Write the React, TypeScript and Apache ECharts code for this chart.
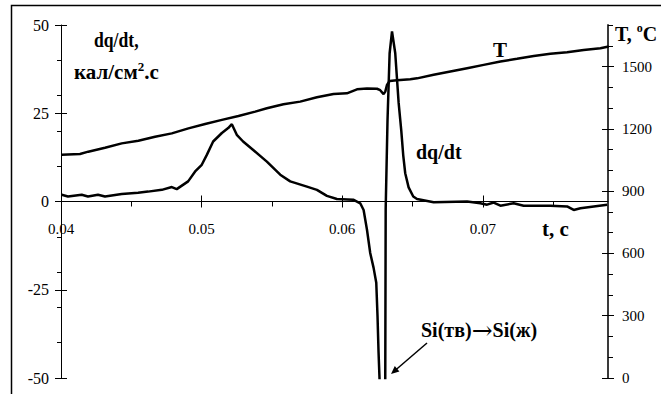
import React, { useEffect, useRef } from "react";
import * as echarts from "echarts";

// Heat flux dq/dt (кал/см².с) against time t (с)
const dqTime = [
  0.04005, 0.0405, 0.04147, 0.04192, 0.04263, 0.04313, 0.04432, 0.04548, 0.04619, 0.04717,
  0.04788, 0.04823, 0.04904, 0.04954, 0.05001, 0.05037, 0.05082, 0.05144, 0.05189, 0.05215,
  0.0525, 0.05295, 0.05367, 0.05464, 0.05559, 0.0563, 0.05749, 0.0582, 0.05891, 0.05962,
  0.06078, 0.06128, 0.06152, 0.06176, 0.06199, 0.06223, 0.06242, 0.06251, 0.06258, 0.06265,
  0.06286, 0.06306, 0.06309, 0.06322, 0.06337, 0.06354, 0.06377, 0.06401, 0.0642, 0.06434,
  0.06448, 0.06472, 0.06505, 0.06532, 0.0665, 0.06888, 0.06982, 0.0703, 0.07077, 0.07125,
  0.07219, 0.0729, 0.0748, 0.07599, 0.07646, 0.07694, 0.07789, 0.07884,
];
const dqValues = [
  1.9, 1.4, 1.9, 1.4, 1.9, 1.4, 2.1, 2.5, 2.8, 3.3,
  4.1, 3.5, 5.7, 8.5, 10.4, 13.2, 17.0, 19.4, 20.8, 21.9,
  18.9, 17.0, 14.6, 11.3, 7.6, 5.7, 4.2, 3.3, 1.6, 0.7,
  0.5, -0.5, -2.4, -8, -14.6, -18.8, -23, -32.6, -42.4, -50,
  -75, -50, -2, 23, 42, 48.2, 42, 28, 20, 13,
  8, 4, 1.4, 0.7, -0.2, 0, -0.5, -0.9, -0.3, -1.2,
  -0.5, -1.2, -1.2, -1.4, -2.4, -1.9, -1.4, -0.9,
];

// Temperature T (°C) against time t (с)
const tempTime = [
  0.04005, 0.04135, 0.04194, 0.04313, 0.04432, 0.0455, 0.04669, 0.04788, 0.04906, 0.05025,
  0.05144, 0.05262, 0.05381, 0.05464, 0.05582, 0.05701, 0.0582, 0.05938, 0.06033, 0.06105,
  0.06176, 0.06247, 0.0627, 0.06294, 0.06306, 0.06318, 0.06337, 0.06389, 0.06484, 0.06532,
  0.0665, 0.06769, 0.06888, 0.07006, 0.07125, 0.07243, 0.07362, 0.0748, 0.07599, 0.07717,
  0.07836, 0.07895,
];
const tempValues = [
  1075, 1079, 1090, 1109, 1130, 1143, 1162, 1178, 1202, 1223,
  1243, 1262, 1283, 1299, 1318, 1331, 1352, 1368, 1371, 1390,
  1394, 1393, 1386, 1367, 1379, 1411, 1430, 1434, 1439, 1443,
  1460, 1476, 1492, 1508, 1524, 1537, 1551, 1561, 1569, 1580,
  1588, 1596,
];

const xMajor = [0.04, 0.05, 0.06, 0.07];
const xMinor = [0.045, 0.055, 0.065, 0.075];
const tempMajor = [0, 300, 600, 900, 1200, 1500];

const FONT = "'Liberation Serif', 'Times New Roman', serif";

// plot area edges in px
const GRID = { left: 61, right: 53, top: 25, bottom: 16 };
const CHART_H = 394;

const hidden = { show: false };

function leftAxis(interval: number, tick: any, label: any, line: boolean) {
  return {
    type: "value",
    position: "left",
    min: -50,
    max: 50,
    interval,
    axisLine: { show: line, lineStyle: { color: "#000", width: 1 } },
    axisTick: tick,
    axisLabel: label,
    splitLine: hidden,
  };
}

function rightAxis(interval: number, tick: any, label: any, line: boolean) {
  return {
    type: "value",
    position: "right",
    min: 0,
    max: 1700,
    interval,
    axisLine: { show: line, lineStyle: { color: "#3a3a3a", width: 2 } },
    axisTick: tick,
    axisLabel: label,
    splitLine: hidden,
  };
}

function timeAxis(tick: any, label: any, line: boolean, onZero: boolean, offset = 0) {
  return {
    type: "value",
    position: "bottom",
    offset,
    min: 0.04,
    max: 0.0789,
    interval: 0.01,
    axisLine: { show: line, onZero, onZeroAxisIndex: 0, lineStyle: { color: "#000", width: 1 } },
    axisTick: tick,
    axisLabel: label,
    splitLine: hidden,
  };
}

export default function App() {
  const ref = useRef<HTMLDivElement>(null);

  useEffect(() => {
    if (!ref.current) return;
    const chart = echarts.init(ref.current, null, { renderer: "svg" });

    const dqData = dqTime.map((t, i) => [t, dqValues[i]]);
    const tempData = tempTime.map((t, i) => [t, tempValues[i]]);

    const labelStyle = { color: "#000", fontFamily: FONT, fontSize: 15 };
    const bold = { fontFamily: FONT, fontWeight: "bold", fill: "#000" };

    // distance from the grid bottom up to the zero line of the dq/dt axis
    const plotH = CHART_H - GRID.top - GRID.bottom;
    const zeroLift = -plotH / 2;

    chart.setOption({
      animation: false,
      backgroundColor: "#fff",
      grid: { ...GRID, outerBoundsMode: "none", containLabel: false },
      xAxis: [
        timeAxis(
          { show: true, inside: false, length: 6, customValues: xMajor, lineStyle: { color: "#000" } },
          hidden,
          true,
          true
        ),
        timeAxis(
          { show: true, inside: true, length: 6, customValues: xMajor, lineStyle: { color: "#000" } },
          hidden,
          false,
          true
        ),
        timeAxis(
          { show: true, inside: false, length: 5, customValues: xMinor, lineStyle: { color: "#000" } },
          hidden,
          false,
          true
        ),
        // tick labels of the time axis, lifted to the zero line
        timeAxis(
          hidden,
          {
            ...labelStyle,
            margin: 20,
            customValues: xMajor,
            formatter: (v: number) => v.toFixed(2),
          },
          false,
          false,
          zeroLift
        ),
      ],
      yAxis: [
        leftAxis(25, { show: true, inside: false, length: 6, lineStyle: { color: "#000" } }, { ...labelStyle, fontSize: 16, margin: 12 }, true),
        leftAxis(25, { show: true, inside: true, length: 6, lineStyle: { color: "#000" } }, hidden, false),
        leftAxis(10, { show: true, inside: false, length: 4, lineStyle: { color: "#000" } }, hidden, false),
        rightAxis(
          300,
          { show: true, inside: false, length: 6, customValues: tempMajor, lineStyle: { color: "#000" } },
          { ...labelStyle, margin: 14, customValues: tempMajor, formatter: (v: number) => String(v) },
          true
        ),
        rightAxis(
          300,
          { show: true, inside: true, length: 6, customValues: tempMajor, lineStyle: { color: "#000" } },
          hidden,
          false
        ),
        rightAxis(100, { show: true, inside: false, length: 5, lineStyle: { color: "#000" } }, hidden, false),
      ],
      series: [
        {
          type: "line",
          name: "dq/dt",
          xAxisIndex: 0,
          yAxisIndex: 0,
          data: dqData,
          showSymbol: false,
          clip: true,
          lineStyle: { color: "#000", width: 2.5 },
        },
        {
          type: "line",
          name: "T",
          xAxisIndex: 0,
          yAxisIndex: 3,
          data: tempData,
          showSymbol: false,
          clip: true,
          lineStyle: { color: "#000", width: 2.5 },
        },
      ],
      graphic: [
        {
          type: "rect",
          shape: { x: 11.5, y: 5.5, width: 700, height: 450 },
          style: { fill: "none", stroke: "#000", lineWidth: 1.5 },
          silent: true,
        },
        {
          type: "text",
          x: 94,
          y: 40,
          scaleX: 0.84,
          style: { ...bold, text: "dq/dt,", fontSize: 21, verticalAlign: "middle" },
        },
        {
          type: "text",
          x: 74,
          y: 72,
          style: {
            text: "{a|кал/см}{s|2}{a|.с}",
            verticalAlign: "middle",
            rich: {
              a: { ...bold, fontSize: 21, lineHeight: 24 },
              s: { ...bold, fontSize: 13, verticalAlign: "top", lineHeight: 14 },
            },
          },
        },
        {
          type: "text",
          x: 500,
          y: 50,
          style: { ...bold, text: "T", fontSize: 21, align: "center", verticalAlign: "middle" },
        },
        {
          type: "text",
          x: 615,
          y: 34,
          style: {
            text: "{a|T, }{s|o}{a|C}",
            verticalAlign: "middle",
            rich: {
              a: { ...bold, fontSize: 20, lineHeight: 24 },
              s: { ...bold, fontSize: 12, verticalAlign: "top", lineHeight: 14 },
            },
          },
        },
        {
          type: "text",
          x: 416,
          y: 152,
          style: { ...bold, text: "dq/dt", fontSize: 20, verticalAlign: "middle" },
        },
        {
          type: "text",
          x: 542,
          y: 229,
          style: { ...bold, text: "t, c", fontSize: 21, verticalAlign: "middle" },
        },
        {
          type: "text",
          x: 421,
          y: 330,
          style: {
            text: "{b|Si}{c|(тв)}{r|→}{b|Si}{c|(ж)}",
            verticalAlign: "middle",
            rich: {
              b: { ...bold, fontSize: 20, lineHeight: 24 },
              c: { ...bold, fontSize: 20, lineHeight: 24 },
              r: { fontFamily: "'DejaVu Serif', serif", fill: "#000", fontSize: 25, lineHeight: 24 },
            },
          },
        },
        {
          type: "line",
          shape: { x1: 427, y1: 343, x2: 395, y2: 370.5 },
          style: { stroke: "#000", lineWidth: 1.5 },
        },
        {
          type: "polygon",
          shape: { points: [[391, 374], [399.4, 371.4], [394.8, 366.1]] },
          style: { fill: "#000" },
        },
      ],
    });

    return () => chart.dispose();
  }, []);

  return (
    <div
      ref={ref}
      style={{ position: "fixed", left: 0, top: 0, width: 661, height: CHART_H }}
    />
  );
}
